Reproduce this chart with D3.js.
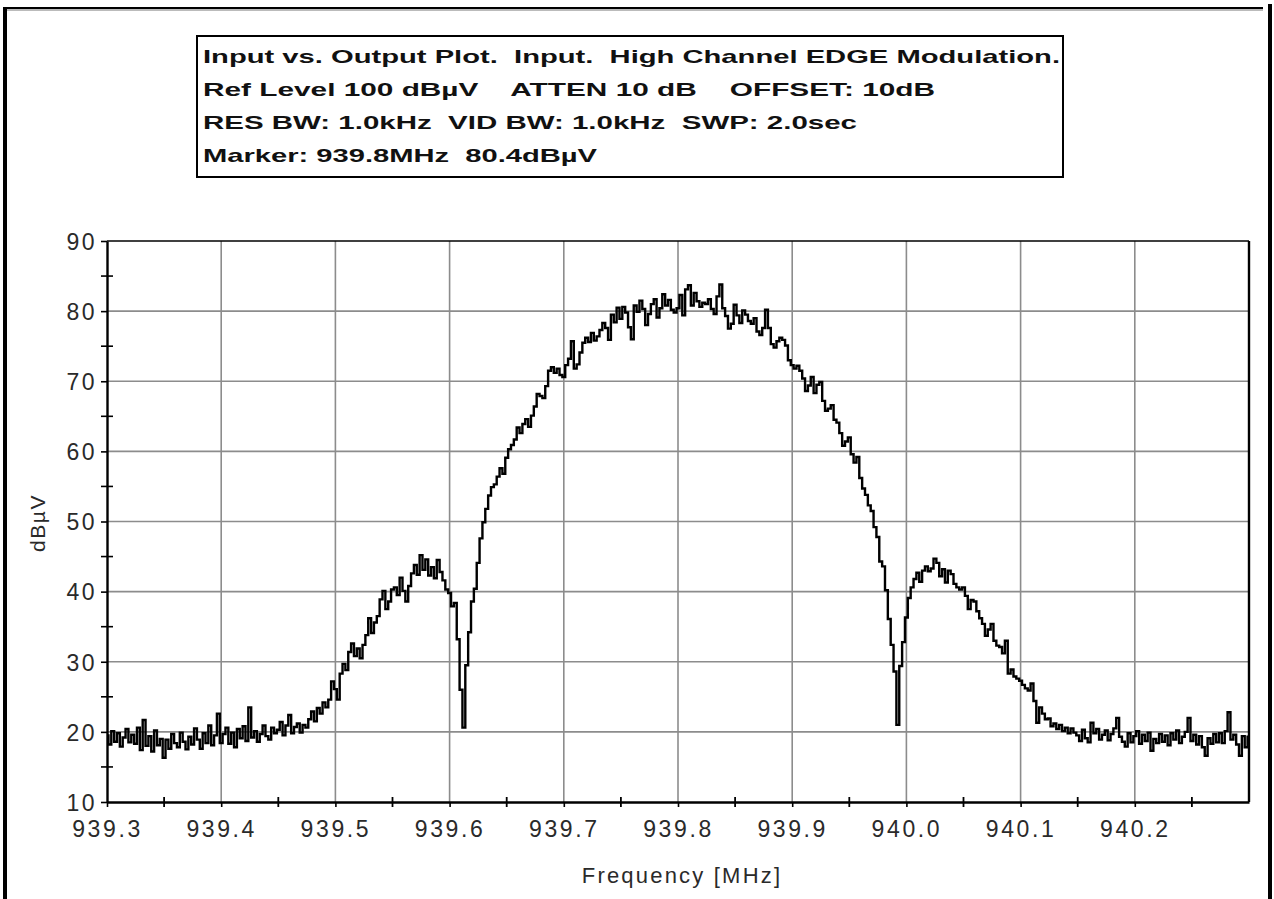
<!DOCTYPE html>
<html>
<head>
<meta charset="utf-8">
<script src="https://cdn.jsdelivr.net/npm/d3@7"></script>
<style>
  html, body { margin: 0; padding: 0; background: #fff; }
  svg { display: block; }
</style>
</head>
<body>
<svg id="chart" width="1274" height="899"></svg>
<script>
// Analyzer header block
const headerLines = [
  "Input vs. Output Plot.  Input.  High Channel EDGE Modulation.",
  "Ref Level 100 dBµV    ATTEN 10 dB    OFFSET: 10dB",
  "RES BW: 1.0kHz  VID BW: 1.0kHz  SWP: 2.0sec",
  "Marker: 939.8MHz  80.4dBµV"
];
const headerWidths = [857, 732, 654, 394];

// Axis ticks
const yTicks = [10, 20, 30, 40, 50, 60, 70, 80, 90];
const yMinorTicks = [15, 25, 35, 45, 55, 65, 75, 85];
const xTicks = [939.3, 939.4, 939.5, 939.6, 939.7, 939.8, 939.9, 940.0, 940.1, 940.2];
const xTickLabels = ["939.3", "939.4", "939.5", "939.6", "939.7", "939.8", "939.9", "940.0", "940.1", "940.2"];
const xMinorTicks = [939.35, 939.45, 939.55, 939.65, 939.75, 939.85, 939.95, 940.05, 940.15, 940.25];

// Sweep: start / stop frequency (MHz), 401 points
const sweepStart = 939.3;
const sweepStop = 940.3;

// Measured level per sweep point (dBµV)
const level = [
  19.5, 18.2, 20.1, 18.6, 19.8, 17.9, 19.2, 20.4, 18.5, 19.6,
  18.3, 20.6, 17.4, 21.7, 18.0, 19.4, 17.2, 20.2, 18.1, 19.0,
  16.3, 18.9, 17.6, 19.7, 18.4, 17.8, 19.9, 18.6, 17.5, 19.3,
  18.2, 20.5, 18.9, 17.6, 19.8, 18.4, 20.9, 18.1, 19.5, 22.6,
  18.4, 19.7, 20.6, 18.3, 19.9, 17.8, 20.4, 19.1, 20.8, 18.7,
  23.5, 19.2, 20.1, 18.6, 19.7, 20.9, 19.4, 18.9, 20.6, 19.8,
  20.3, 21.4, 19.5, 20.9, 22.4, 19.8, 20.7, 21.2, 19.9, 21.0,
  20.6, 21.8, 22.9, 21.5, 23.4, 22.6, 24.2, 23.5, 24.6, 27.2,
  26.1, 24.6, 28.3, 29.7, 28.8, 31.4, 32.6, 30.8, 31.9, 30.5,
  32.4, 33.8, 36.2, 34.1, 35.6, 36.5, 38.9, 40.1, 37.5, 38.6,
  40.3, 40.6, 39.5, 42.0, 40.1, 38.6, 40.8, 42.6, 43.8, 42.4,
  45.2, 43.1, 44.6, 42.3, 43.5, 41.9, 44.5, 42.8, 41.6, 40.3,
  39.8, 37.9, 38.4, 33.2, 26.0, 20.6, 29.5, 34.2, 38.6, 40.4,
  44.1, 47.6, 49.9, 51.8, 53.7, 54.9, 55.3, 56.4, 57.6, 56.8,
  59.1, 60.3, 60.9, 61.7, 63.4, 62.6, 63.9, 64.6, 63.5, 65.1,
  66.4, 68.2, 67.9, 67.6, 69.3, 71.5, 72.0, 71.2, 71.8, 70.9,
  70.6, 72.3, 73.2, 75.7, 71.8, 72.4, 74.1, 75.5, 76.2, 75.6,
  76.9, 75.8, 76.4, 77.3, 78.3, 77.6, 75.9, 79.5, 78.4, 80.5,
  78.9, 80.6, 79.8, 77.7, 76.0, 80.8, 79.9, 81.5, 80.3, 78.0,
  79.6, 81.0, 81.7, 79.1, 80.4, 82.4, 80.8, 81.6, 80.2, 79.8,
  80.4, 82.3, 79.4, 83.1, 83.7, 80.8, 82.6, 81.4, 80.6, 81.2,
  81.0, 81.7, 80.3, 79.6, 82.1, 83.8, 80.4, 79.3, 77.5, 78.2,
  80.9, 79.4, 78.3, 80.1, 79.5, 78.6, 78.2, 79.0, 77.1, 76.6,
  77.6, 80.2, 77.6, 75.3, 74.8, 75.7, 76.2, 75.9, 75.1, 73.0,
  72.3, 71.8, 72.2, 71.5, 70.4, 68.6, 69.4, 70.6, 68.3, 69.5,
  69.9, 67.2, 65.8, 66.1, 66.6, 64.5, 64.1, 62.6, 60.8, 61.4,
  62.0, 59.6, 58.4, 59.2, 56.2, 54.7, 53.8, 52.3, 51.5, 49.2,
  47.8, 44.3, 43.6, 40.2, 36.1, 32.4, 28.6, 21.0, 29.4, 32.8,
  36.3, 39.1, 40.6, 41.8, 42.7, 41.4, 43.0, 43.6, 42.9, 43.3,
  44.7, 44.1, 42.2, 43.2, 41.3, 43.0, 42.5, 41.1, 40.6, 40.3,
  40.6, 39.4, 37.5, 38.8, 38.6, 37.2, 36.2, 35.4, 33.7, 34.6,
  35.4, 33.0, 32.3, 32.1, 31.2, 33.0, 28.3, 28.9, 27.9, 27.6,
  27.3, 26.7, 26.2, 25.9, 26.9, 24.4, 21.3, 23.5, 22.6, 21.8,
  21.9, 20.8, 21.2, 20.4, 21.0, 20.1, 20.6, 19.8, 20.5, 19.9,
  19.5, 18.7, 20.3, 19.1, 18.5, 21.3, 19.8, 20.4, 18.9, 19.6,
  20.2, 18.8, 19.7, 20.5, 22.0, 19.3, 18.6, 17.9, 19.8, 18.5,
  19.4, 20.1, 18.3, 19.6, 18.7, 19.9, 17.3, 19.0, 18.4, 19.7,
  18.6, 19.5, 18.1, 19.8, 18.9, 20.2, 18.4, 19.3, 20.0, 22.0,
  18.7, 19.6, 18.2, 19.4, 17.8, 16.6, 19.1, 18.3, 19.7, 18.5,
  19.8, 18.4, 20.1, 22.8, 18.9, 19.6, 18.2, 16.6, 19.4, 17.8,
  19.3
];

const svg = d3.select("#chart");
const W = 1274, H = 899;
const plot = { left: 107, right: 1249, top: 241, bottom: 802 };

const x = d3.scaleLinear().domain([sweepStart, sweepStop]).range([plot.left, plot.right]);
const y = d3.scaleLinear().domain([10, 90]).range([plot.bottom, plot.top]);
const pointFreq = d3.scaleLinear().domain([0, level.length - 1]).range([sweepStart, sweepStop]);

// Page frame
svg.append("rect").attr("x", 0).attr("y", 0).attr("width", W).attr("height", H).attr("fill", "#fff");
svg.append("rect").attr("x", 3).attr("y", 7).attr("width", 1260).attr("height", 2).attr("fill", "#000");
svg.append("rect").attr("x", 7).attr("y", 9).attr("width", 1256).attr("height", 2).attr("fill", "#bbb");
svg.append("rect").attr("x", 3).attr("y", 7).attr("width", 4).attr("height", H - 7).attr("fill", "#000");
svg.append("rect").attr("x", 1268).attr("y", 4).attr("width", 4).attr("height", H - 4).attr("fill", "#000");

// Header box
svg.append("rect")
  .attr("x", 197).attr("y", 36).attr("width", 866).attr("height", 141)
  .attr("fill", "#fff").attr("stroke", "#000").attr("stroke-width", 2);

svg.append("g").selectAll("text")
  .data(headerLines)
  .join("text")
  .attr("x", 203)
  .attr("y", (d, i) => 63 + i * 33)
  .attr("textLength", (d, i) => headerWidths[i])
  .attr("lengthAdjust", "spacingAndGlyphs")
  .style("white-space", "pre")
  .attr("font-family", "'Liberation Sans', Arial, sans-serif")
  .attr("font-weight", "bold")
  .attr("font-size", 19)
  .attr("fill", "#111")
  .text(d => d);

// Grid
const grid = svg.append("g").attr("stroke", "#8c8c8c").attr("stroke-width", 1.6);
grid.selectAll("line.h")
  .data(yTicks.filter(v => v > 10 && v < 90))
  .join("line")
  .attr("x1", plot.left).attr("x2", plot.right)
  .attr("y1", d => y(d)).attr("y2", d => y(d));
grid.selectAll("line.v")
  .data(xTicks.filter(v => v > sweepStart))
  .join("line")
  .attr("y1", plot.top).attr("y2", plot.bottom)
  .attr("x1", d => x(d)).attr("x2", d => x(d));

// Plot frame (top and right)
svg.append("line").attr("x1", plot.left).attr("x2", plot.right).attr("y1", plot.top).attr("y2", plot.top)
  .attr("stroke", "#000").attr("stroke-width", 1.6);
svg.append("line").attr("x1", plot.right).attr("x2", plot.right).attr("y1", plot.top).attr("y2", plot.bottom)
  .attr("stroke", "#000").attr("stroke-width", 2.4);

// Trace (stepped, as the analyzer draws it)
const line = d3.line()
  .x((d, i) => x(pointFreq(i)))
  .y(d => y(d))
  .curve(d3.curveStep);
svg.append("path")
  .datum(level)
  .attr("d", line)
  .attr("fill", "none")
  .attr("stroke", "#000")
  .attr("stroke-width", 2.4)
  .attr("stroke-linejoin", "miter");

const labelFont = "'Liberation Sans Narrow', 'Liberation Sans', Arial, sans-serif";

// Y axis
const yAxis = d3.axisLeft(y).tickValues(yTicks).tickSize(6).tickSizeOuter(0).tickPadding(4)
  .tickFormat(d3.format("d"));
const gy = svg.append("g").attr("transform", `translate(${plot.left},0)`).call(yAxis);
gy.select(".domain").attr("stroke", "#000").attr("stroke-width", 2.4);
gy.selectAll(".tick line").attr("stroke", "#000").attr("stroke-width", 1.6);
gy.selectAll(".tick text")
  .attr("font-family", labelFont).attr("font-size", 23).attr("fill", "#2a2a2a")
  .attr("letter-spacing", 2.5).attr("dy", "0.36em");

svg.append("g").selectAll("line")
  .data(yMinorTicks)
  .join("line")
  .attr("x1", plot.left - 6).attr("x2", plot.left + 6)
  .attr("y1", d => y(d)).attr("y2", d => y(d))
  .attr("stroke", "#000").attr("stroke-width", 1.6);

// X axis
const xAxis = d3.axisBottom(x).tickValues(xTicks).tickSize(5).tickSizeOuter(0).tickPadding(17)
  .tickFormat((d, i) => xTickLabels[i]);
const gx = svg.append("g").attr("transform", `translate(0,${plot.bottom})`).call(xAxis);
gx.select(".domain").attr("stroke", "#000").attr("stroke-width", 2.4);
gx.selectAll(".tick line").attr("stroke", "#000").attr("stroke-width", 1.6);
gx.selectAll(".tick text")
  .attr("font-family", labelFont).attr("font-size", 23).attr("fill", "#2a2a2a")
  .attr("letter-spacing", 2.6).attr("dy", "0.55em");

svg.append("g").selectAll("line")
  .data(xMinorTicks)
  .join("line")
  .attr("y1", plot.bottom - 5).attr("y2", plot.bottom + 5)
  .attr("x1", d => x(d)).attr("x2", d => x(d))
  .attr("stroke", "#000").attr("stroke-width", 1.8);

// Axis titles
svg.append("text")
  .attr("x", 682).attr("y", 883)
  .attr("text-anchor", "middle")
  .attr("font-family", labelFont).attr("font-size", 22).attr("fill", "#2a2a2a")
  .attr("letter-spacing", 2.2)
  .text("Frequency [MHz]");

svg.append("text")
  .attr("transform", "translate(45,523) rotate(-90)")
  .attr("text-anchor", "middle")
  .attr("font-family", labelFont).attr("font-size", 21).attr("fill", "#2a2a2a")
  .attr("letter-spacing", 1.5)
  .text("dBµV");
</script>
</body>
</html>
